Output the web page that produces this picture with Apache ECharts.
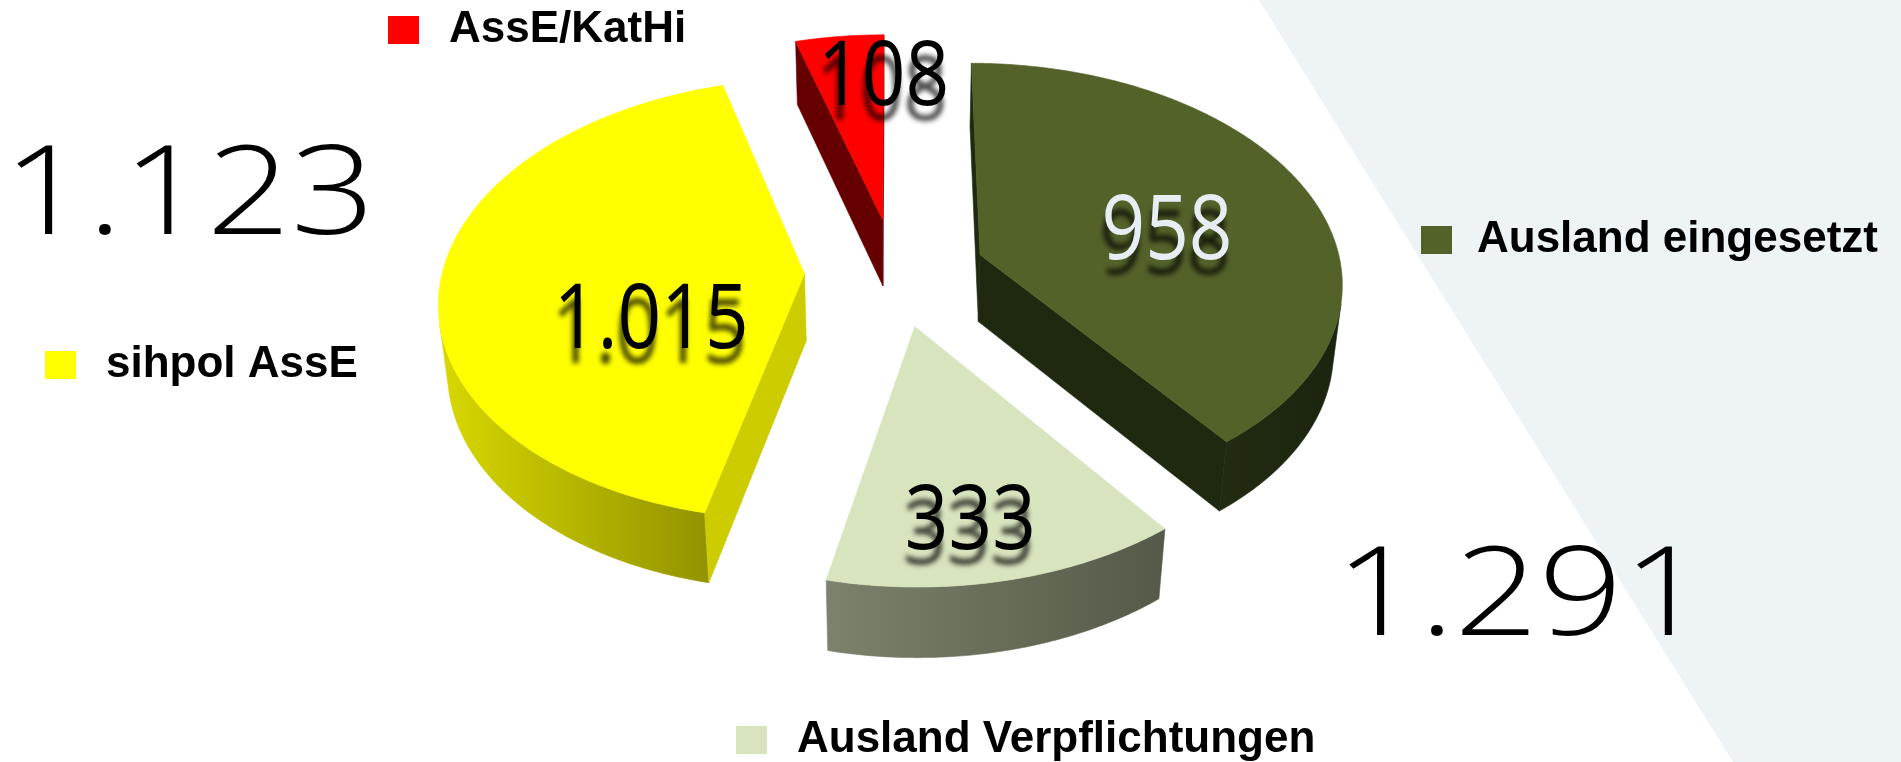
<!DOCTYPE html>
<html><head><meta charset="utf-8">
<script src="https://cdn.jsdelivr.net/npm/echarts@6/dist/echarts.min.js"></script>
<style>html,body{margin:0;padding:0;background:#fff}#c{width:1901px;height:762px}</style>
</head><body><div id="c"></div>
<script>
// ---- data ----
const categories = ['Ausland eingesetzt', 'Ausland Verpflichtungen', 'sihpol AssE', 'AssE/KatHi'];
const values = [958, 333, 1015, 108];
const leftGroup = ['sihpol AssE', 'AssE/KatHi'];
const rightGroup = ['Ausland eingesetzt', 'Ausland Verpflichtungen'];

// ---- styles ----
const styles = {
  'Ausland eingesetzt': {top:'#536229', radial:'#1F2910', outer:['#222C12','#1B240E'], label:'#E6EDF3', lbl:[79,0.54]},
  'Ausland Verpflichtungen': {top:'#D8E4BE', radial:'#6E735E', outer:['#7C826C','#555948'], label:'#000000', lbl:[170.5,0.79]},
  'sihpol AssE': {top:'#FFFF00', radial:'#CCCC00', outer:['#D8D800','#929200'], label:'#000000', lbl:[242,0.46]},
  'AssE/KatHi': {top:'#FF0000', radial:'#660000', outer:['#990000','#660000'], label:'#000000', lbl:[0,0.74]}
};
const E = 0.25, S = 362, CX = 895, CY = 272, SINP = 0.6, COSP = 0.8, DIST = 7, THICK = 0.236;
const CAM = [0, DIST*SINP, -DIST*COSP];
function proj(X, Y, Z){
  const yv = Y*COSP + Z*SINP, zv = Z*COSP - Y*SINP, s = DIST/(DIST+zv);
  return [CX + S*X*s, CY - S*yv*s];
}
function fmt(v){ return String(v).replace(/\B(?=(\d{3})+(?!\d))/g, '.'); }
function grad(c){ return new echarts.graphic.LinearGradient(0,0,1,0,[{offset:0,color:c[0]},{offset:1,color:c[1]}]); }

function renderSlice(idx){
  return function(params, api){
    const total = values.reduce((a,b)=>a+b,0);
    let start = 0; for (let i=0;i<idx;i++) start += values[i];
    const v = api.value(0);
    const a0 = start/total*2*Math.PI, a1 = (start+v)/total*2*Math.PI, m = (a0+a1)/2;
    const ox = E*Math.sin(m), oz = E*Math.cos(m);
    const st = styles[categories[idx]];
    const P = (t, y) => proj(ox+Math.sin(t), y, oz+Math.cos(t));
    const A = y => proj(ox, y, oz);
    const children = [];
    const n = Math.max(2, Math.ceil((a1-a0)/(Math.PI/360)));
    const vis = t => {
      const px = ox+Math.sin(t)-CAM[0], pz = oz+Math.cos(t)-CAM[2];
      return px*Math.sin(t) + pz*Math.cos(t) < 0;
    };
    let run = [];
    const flush = () => {
      if (run.length > 1) {
        const pts = run.map(t=>P(t,0)).concat(run.slice().reverse().map(t=>P(t,-THICK)));
        children.push({type:'polygon', shape:{points:pts}, style:{fill:grad(st.outer), stroke:grad(st.outer), lineWidth:0.6}});
      }
      run = [];
    };
    for (let i=0;i<=n;i++){ const t = a0+(a1-a0)*i/n; if (vis(t)) run.push(t); else flush(); }
    flush();
    const radial = (a, nx, nz) => {
      const px = ox-CAM[0], pz = oz-CAM[2];
      if (px*nx + pz*nz < 0) children.push({type:'polygon', shape:{points:[A(0), P(a,0), P(a,-THICK), A(-THICK)]}, style:{fill:st.radial, stroke:st.radial, lineWidth:0.6}});
    };
    radial(a0, -Math.cos(a0), Math.sin(a0));
    radial(a1, Math.cos(a1), -Math.sin(a1));
    const topPts = [A(0)];
    for (let i=0;i<=n;i++){ const t = a0+(a1-a0)*i/n; topPts.push(P(t,0)); }
    children.push({type:'polygon', shape:{points:topPts}, style:{fill:st.top, stroke:st.top, lineWidth:0.6}});
    const la = st.lbl[0]*Math.PI/180, lr = st.lbl[1];
    const lp = proj(ox+lr*Math.sin(la), 0, oz+lr*Math.cos(la));
    children.push({type:'text', x:lp[0], y:lp[1], scaleX:0.85, z2:100, style:{
      text: fmt(v), fontFamily:"'Open Sans', Roboto, sans-serif", fontSize:90, fill:st.label,
      align:'center', verticalAlign:'middle',
      textShadowColor:'rgba(0,0,0,0.72)', textShadowBlur:5, textShadowOffsetX:-2, textShadowOffsetY:15}});
    return {type:'group', children};
  };
}
const sumOf = g => g.reduce((a,name)=>a+values[categories.indexOf(name)],0);

const legendText = {fontFamily:"'Liberation Sans', Arial, sans-serif", fontWeight:'bold', fontSize:44, color:'#000', padding:[0,0,0,25]};
const mkLegend = (name, left, top, pad) => ({data:[name], left, top, padding:0, icon:'rect', itemWidth:31, itemHeight:28, selectedMode:false,
  textStyle: Object.assign({}, legendText, pad != null ? {padding:[0,0,0,pad]} : {})});

const totalFont = {fontFamily:"'Open Sans', Lato, sans-serif", fontWeight:300, fontSize:123, fill:'#000', align:'center', verticalAlign:'middle'};

const chart = echarts.init(document.getElementById('c'), null, {renderer:'canvas'});
chart.setOption({
  animation:false,
  backgroundColor:'#ffffff',
  graphic:[
    {type:'polygon', z:-10, silent:true, shape:{points:[[1259,0],[1901,0],[1901,762],[1733,762]]}, style:{fill:'#EEF3F6'}},
    {type:'text', z:10, x:189, y:199, scaleX:1.2, style:Object.assign({text:fmt(sumOf(leftGroup))}, totalFont)},
    {type:'text', z:10, x:1521, y:600, scaleX:1.2, style:Object.assign({text:fmt(sumOf(rightGroup))}, totalFont)}
  ],
  legend:[
    mkLegend('AssE/KatHi', 388, 8),
    mkLegend('sihpol AssE', 45, 343),
    mkLegend('Ausland eingesetzt', 1421, 218, 20),
    mkLegend('Ausland Verpflichtungen', 736, 718)
  ],
  series: categories.map((name, i) => ({
    type:'custom', name, coordinateSystem:'none', silent:true,
    renderItem: renderSlice(i), data:[[values[i]]],
    itemStyle:{color: styles[name].top}
  }))
});
</script></body></html>
